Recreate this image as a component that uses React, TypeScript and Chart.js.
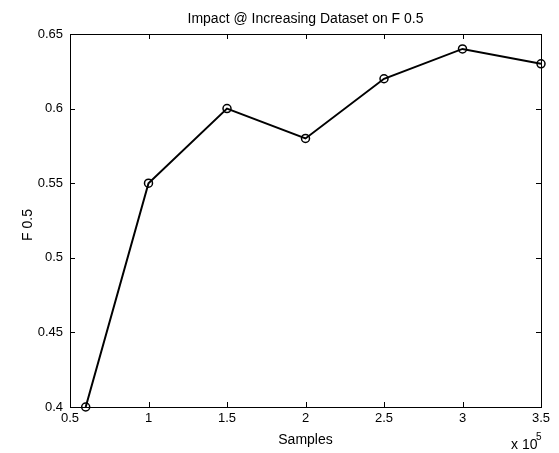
import React, { useEffect, useRef } from "react";
import { Chart, registerables } from "chart.js";

Chart.register(...registerables);

const samples = [0.6, 1, 1.5, 2, 2.5, 3, 3.5];
const f05 = [0.4, 0.55, 0.6, 0.58, 0.62, 0.64, 0.63];
const xTicks = [0.5, 1, 1.5, 2, 2.5, 3, 3.5];
const yTicks = [0.4, 0.45, 0.5, 0.55, 0.6, 0.65];

const FONT = "Liberation Sans, Arial, sans-serif";

const boxPlugin = {
  id: "matlabBox",
  afterDraw(chart: any) {
    const { ctx, chartArea: a, scales } = chart;
    const tl = 5;
    ctx.save();
    ctx.strokeStyle = "#000";
    ctx.lineWidth = 1;
    ctx.strokeRect(Math.round(a.left) + 0.5, Math.round(a.top) + 0.5, Math.round(a.right - a.left), Math.round(a.bottom - a.top));
    ctx.beginPath();
    xTicks.forEach((v) => {
      const x = Math.round(scales.x.getPixelForValue(v)) + 0.5;
      ctx.moveTo(x, a.bottom);
      ctx.lineTo(x, a.bottom - tl);
      ctx.moveTo(x, a.top);
      ctx.lineTo(x, a.top + tl);
    });
    yTicks.forEach((v) => {
      const y = Math.round(scales.y.getPixelForValue(v)) + 0.5;
      ctx.moveTo(a.left, y);
      ctx.lineTo(a.left + tl, y);
      ctx.moveTo(a.right, y);
      ctx.lineTo(a.right - tl, y);
    });
    ctx.stroke();

    ctx.fillStyle = "#000";
    ctx.font = `14px ${FONT}`;
    ctx.textAlign = "center";
    ctx.textBaseline = "middle";
    ctx.fillText("Impact @ Increasing Dataset on F 0.5", (a.left + a.right) / 2, 19);
    ctx.fillText("Samples", (a.left + a.right) / 2, 440);
    ctx.save();
    ctx.translate(28, 225);
    ctx.rotate(-Math.PI / 2);
    ctx.fillText("F 0.5", 0, 0);
    ctx.restore();
    ctx.textAlign = "left";
    ctx.fillText("x 10", 511, 445);
    ctx.font = `10px ${FONT}`;
    ctx.fillText("5", 536, 437);
    ctx.restore();
  },
};

export default function App() {
  const ref = useRef<HTMLCanvasElement>(null);
  useEffect(() => {
    if (!ref.current) return;
    const chart = new Chart(ref.current, {
      type: "scatter",
      data: {
        datasets: [
          {
            data: samples.map((x, i) => ({ x, y: f05[i] })),
            showLine: true,
            clip: false,
            borderColor: "#000",
            borderWidth: 2,
            pointStyle: "circle",
            pointRadius: 4,
            pointBorderWidth: 1.5,
            pointBorderColor: "#000",
            pointBackgroundColor: "rgba(0,0,0,0)",
          },
        ],
      },
      options: {
        animation: false,
        responsive: false,
        maintainAspectRatio: false,
        layout: { padding: { top: 34, right: 18, left: 0, bottom: 0 } },
        plugins: { legend: { display: false }, tooltip: { enabled: false }, title: { display: false } },
        scales: {
          x: {
            type: "linear",
            min: 0.5,
            max: 3.5,
            afterBuildTicks: (s: any) => {
              s.ticks = xTicks.map((v) => ({ value: v }));
            },
            afterFit: (s: any) => {
              s.height = 46;
            },
            grid: { display: false, drawTicks: false },
            border: { display: false },
            ticks: {
              color: "#000",
              font: { family: FONT, size: 13 },
              padding: 4,
              maxRotation: 0,
              autoSkip: false,
              callback: (v: any) => String(v),
            },
          },
          y: {
            type: "linear",
            min: 0.4,
            max: 0.65,
            afterBuildTicks: (s: any) => {
              s.ticks = yTicks.map((v) => ({ value: v }));
            },
            afterFit: (s: any) => {
              s.width = 70;
            },
            grid: { display: false, drawTicks: false },
            border: { display: false },
            ticks: {
              color: "#000",
              font: { family: FONT, size: 13 },
              padding: 7,
              autoSkip: false,
              callback: (v: any) => String(Math.round(v * 100) / 100),
            },
          },
        },
      },
      plugins: [boxPlugin],
    });
    return () => chart.destroy();
  }, []);
  return (
    <div style={{ position: "fixed", left: 0, top: 0, width: 559, height: 453, background: "#fff" }}>
      <canvas ref={ref} width={559} height={453} style={{ width: 559, height: 453 }} />
    </div>
  );
}
